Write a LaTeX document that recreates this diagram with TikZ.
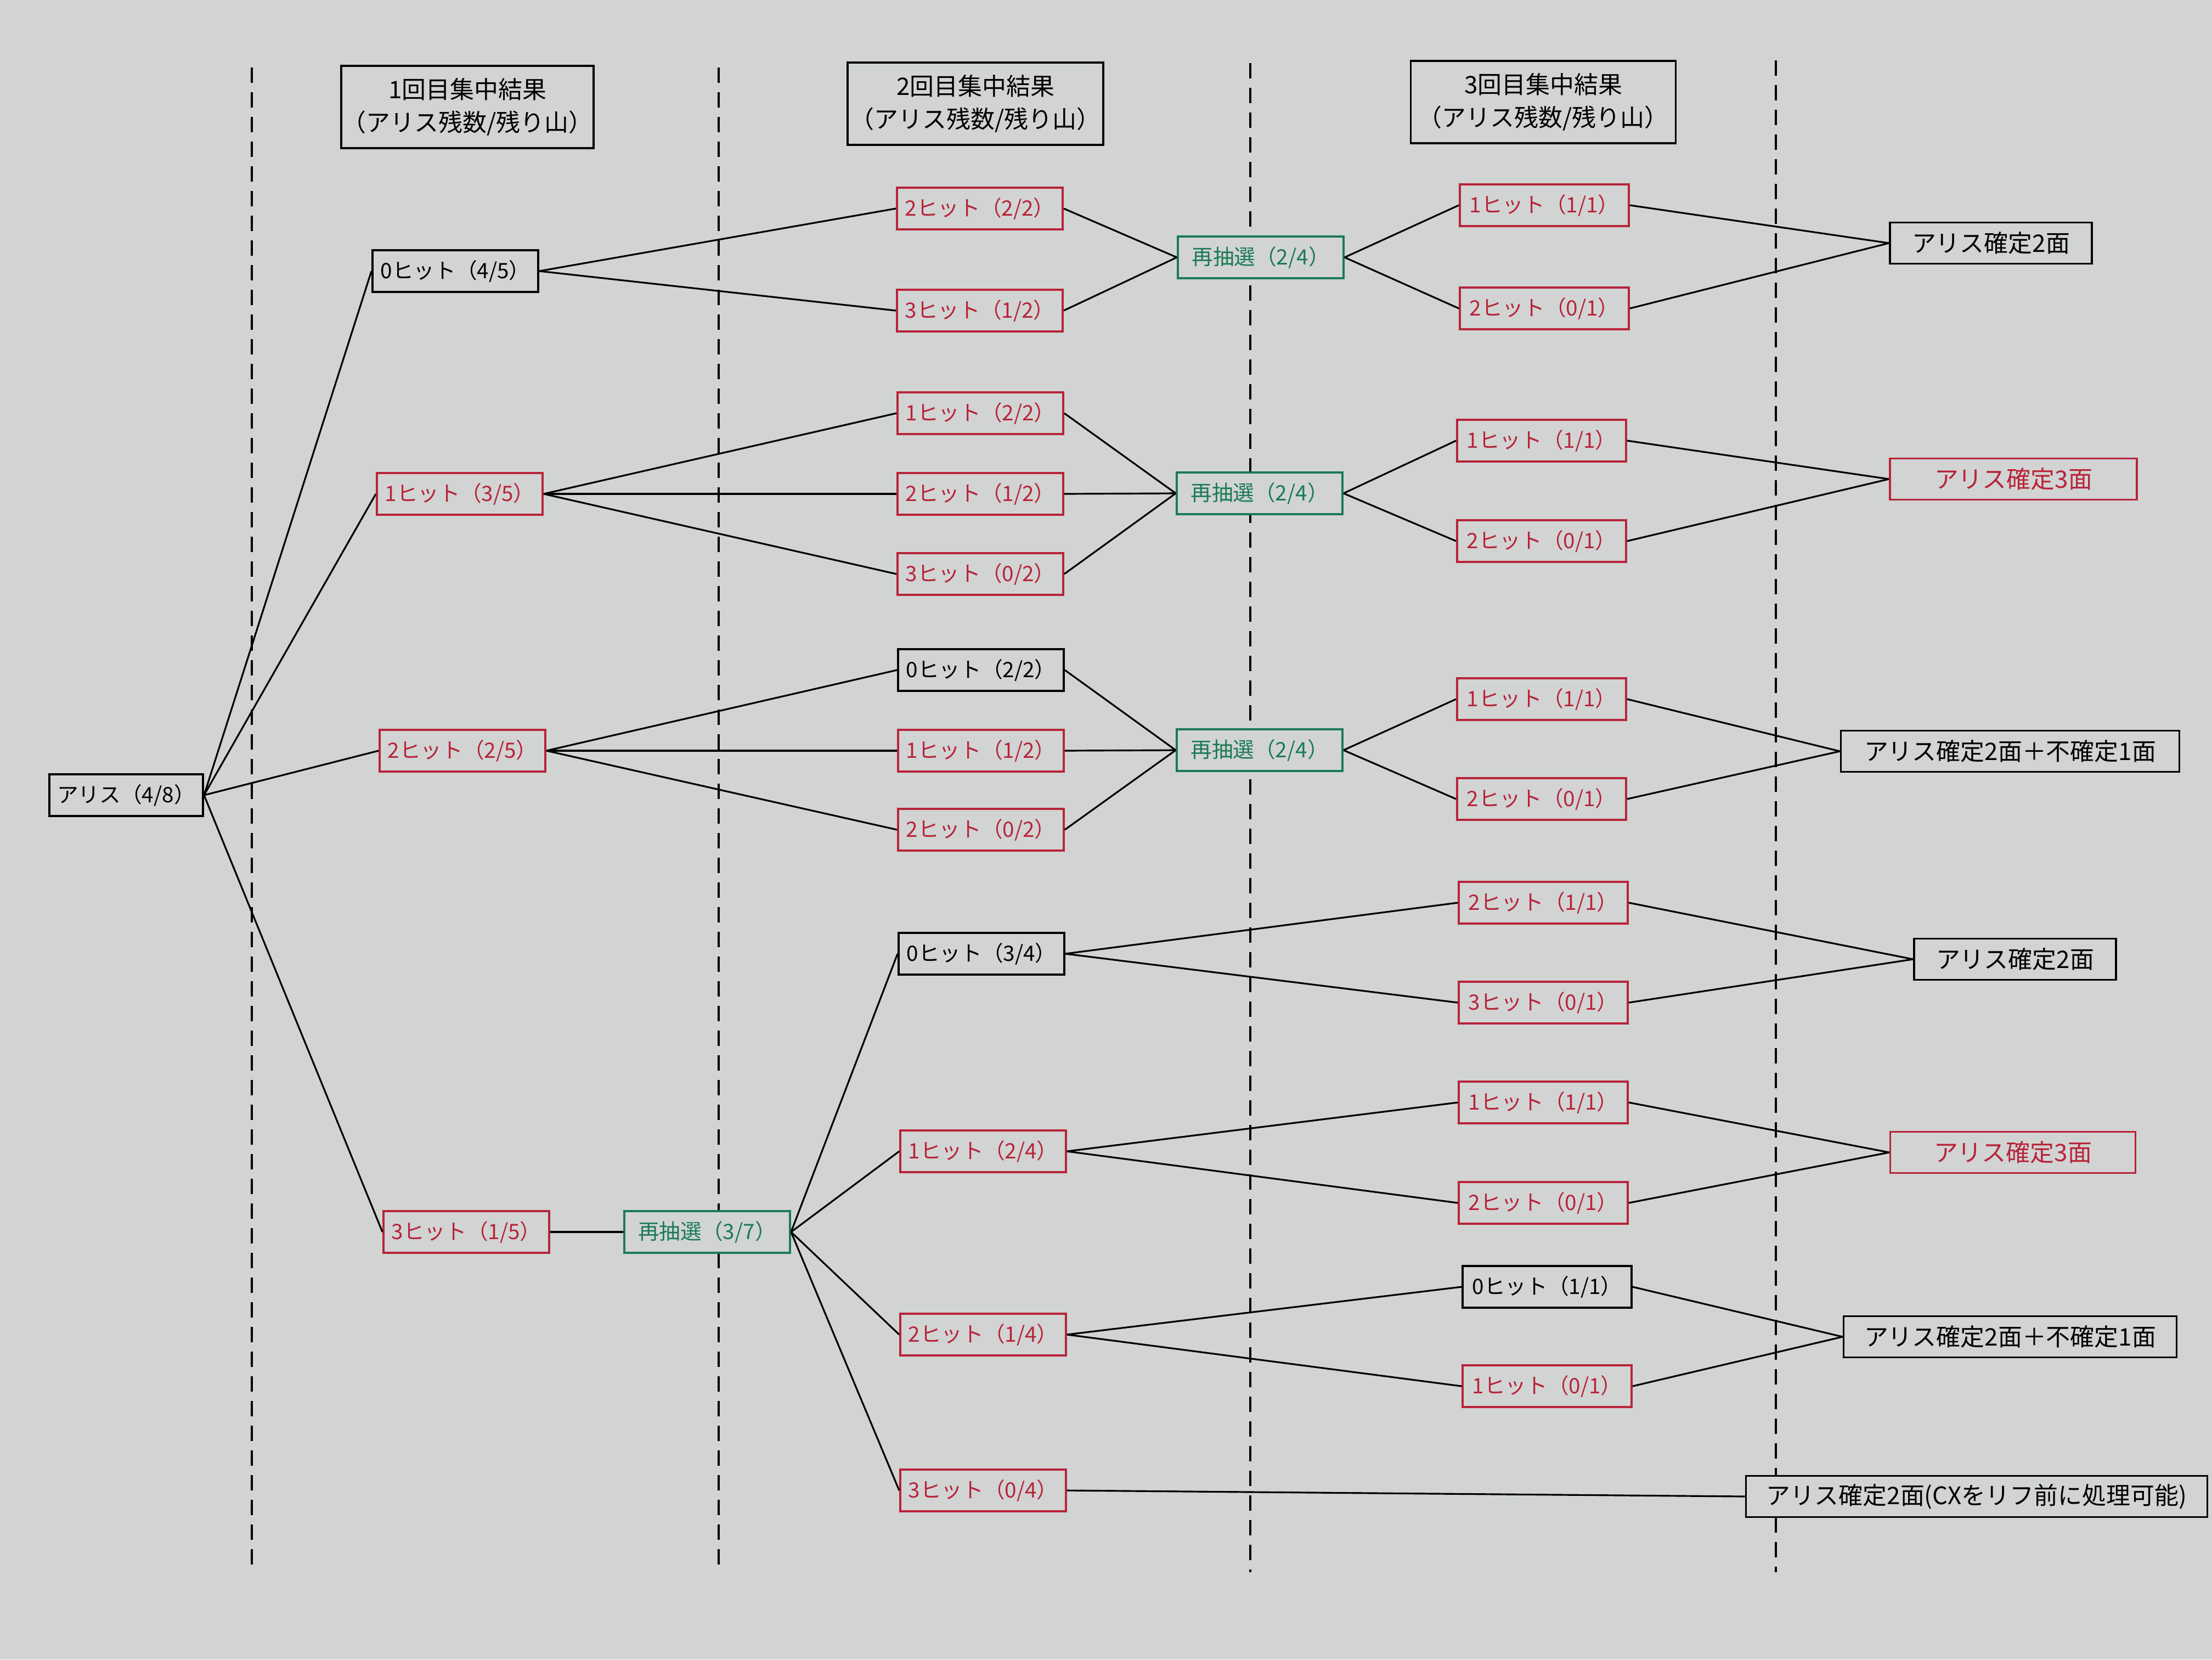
\documentclass[tikz,border=0pt]{standalone}
\usepackage{fontspec}
\setmainfont{Noto Sans CJK JP}
\usepackage{tikz}
\definecolor{paper}{RGB}{209,212,211}
\definecolor{hitred}{RGB}{184,36,58}
\definecolor{redraw}{RGB}{28,122,86}

\begin{document}
\begin{tikzpicture}
	\tikzstyle{every node}+=[inner sep=0pt, fill=paper, line width=1.1pt, font=\fontsize{11}{12}\selectfont]
	\tikzstyle{box}=[draw=black, text=black, minimum width=3.02cm, minimum height=0.76cm]
	\tikzstyle{redbox}=[box, draw=hitred, text=hitred]
	\tikzstyle{greenbox}=[box, draw=redraw, text=redraw]
	\tikzstyle{head}=[draw=black, minimum height=1.5cm, align=center, font=\fontsize{12.5}{17}\selectfont]
	\tikzstyle{result}=[font=\fontsize{12.5}{15}\selectfont, minimum height=0.75cm]
	\tikzstyle{divider}=[black, line width=1.1pt, dash pattern=on 0.28cm off 0.17cm]
	\tikzstyle{edge}=[black, line width=0.9pt]
	\fill [paper] (0,0) rectangle (40.32,-30.24);
	\useasboundingbox (0,0) rectangle (40.32,-30.24);
	\draw [divider] (4.59,-1.23) -- (4.59,-28.65);
	\draw [divider] (13.10,-1.23) -- (13.10,-28.65);
	\draw [divider] (22.79,-1.15) -- (22.79,-28.65);
	\draw [divider] (32.37,-1.10) -- (32.37,-28.65);
	\node [head, minimum width=4.60cm] (h1) at (8.52,-1.95) {1回目集中結果\\（アリス残数/残り山）};
	\node [head, minimum width=4.66cm] (h2) at (17.78,-1.89) {2回目集中結果\\（アリス残数/残り山）};
	\node [head, minimum width=4.83cm] (h3) at (28.13,-1.86) {3回目集中結果\\（アリス残数/残り山）};
	\node [box, minimum width=2.80cm] (alice) at (2.30,-14.49) {アリス（4/8）};
	\node [box] (f0) at (8.30,-4.94) {0ヒット（4/5）};
	\node [redbox] (f1) at (8.38,-9.00) {1ヒット（3/5）};
	\node [redbox] (f2) at (8.43,-13.68) {2ヒット（2/5）};
	\node [redbox] (f3) at (8.50,-22.45) {3ヒット（1/5）};
	\node [greenbox] (rd0) at (12.89,-22.45) {再抽選（3/7）};
	\node [redbox] (s1) at (17.86,-3.80) {2ヒット（2/2）};
	\node [redbox] (s2) at (17.86,-5.66) {3ヒット（1/2）};
	\node [redbox] (s3) at (17.87,-7.53) {1ヒット（2/2）};
	\node [redbox] (s4) at (17.87,-9.00) {2ヒット（1/2）};
	\node [redbox] (s5) at (17.87,-10.46) {3ヒット（0/2）};
	\node [box] (s6) at (17.88,-12.21) {0ヒット（2/2）};
	\node [redbox] (s7) at (17.88,-13.68) {1ヒット（1/2）};
	\node [redbox] (s8) at (17.88,-15.12) {2ヒット（0/2）};
	\node [box] (s9) at (17.89,-17.38) {0ヒット（3/4）};
	\node [redbox] (s10) at (17.92,-20.98) {1ヒット（2/4）};
	\node [redbox] (s11) at (17.92,-24.32) {2ヒット（1/4）};
	\node [redbox] (s12) at (17.92,-27.16) {3ヒット（0/4）};
	\node [greenbox] (rd1) at (22.98,-4.69) {再抽選（2/4）};
	\node [greenbox] (rd2) at (22.96,-8.99) {再抽選（2/4）};
	\node [greenbox] (rd3) at (22.96,-13.67) {再抽選（2/4）};
	\node [redbox, minimum width=3.08cm] (t1) at (28.15,-3.74) {1ヒット（1/1）};
	\node [redbox, minimum width=3.08cm] (t2) at (28.15,-5.62) {2ヒット（0/1）};
	\node [redbox, minimum width=3.08cm] (t3) at (28.10,-8.03) {1ヒット（1/1）};
	\node [redbox, minimum width=3.08cm] (t4) at (28.10,-9.86) {2ヒット（0/1）};
	\node [redbox, minimum width=3.08cm] (t5) at (28.10,-12.74) {1ヒット（1/1）};
	\node [redbox, minimum width=3.08cm] (t6) at (28.10,-14.56) {2ヒット（0/1）};
	\node [redbox, minimum width=3.08cm] (t7) at (28.13,-16.45) {2ヒット（1/1）};
	\node [redbox, minimum width=3.08cm] (t8) at (28.13,-18.27) {3ヒット（0/1）};
	\node [redbox, minimum width=3.08cm] (t9) at (28.13,-20.09) {1ヒット（1/1）};
	\node [redbox, minimum width=3.08cm] (t10) at (28.13,-21.92) {2ヒット（0/1）};
	\node [box, minimum width=3.08cm] (t11) at (28.20,-23.45) {0ヒット（1/1）};
	\node [redbox, minimum width=3.08cm] (t12) at (28.20,-25.26) {1ヒット（0/1）};
	\node [box, result, minimum width=3.68cm] (e1) at (36.29,-4.43) {アリス確定2面};
	\node [redbox, result, minimum width=4.50cm] (e2) at (36.70,-8.73) {アリス確定3面};
	\node [box, result, minimum width=6.17cm] (e3) at (36.64,-13.69) {アリス確定2面＋不確定1面};
	\node [box, result, minimum width=3.68cm] (e4) at (36.73,-17.48) {アリス確定2面};
	\node [redbox, result, minimum width=4.47cm] (e5) at (36.69,-21.00) {アリス確定3面};
	\node [box, result, minimum width=6.07cm] (e6) at (36.64,-24.36) {アリス確定2面＋不確定1面};
	\node [box, result, minimum width=8.41cm] (e7) at (36.03,-27.27) {アリス確定2面(CXをリフ前に処理可能)};
	\draw [edge] (alice.east) -- (f0.west);
	\draw [edge] (alice.east) -- (f1.west);
	\draw [edge] (alice.east) -- (f2.west);
	\draw [edge] (alice.east) -- (f3.west);
	\draw [edge] (f0.east) -- (s1.west);
	\draw [edge] (f0.east) -- (s2.west);
	\draw [edge] (f1.east) -- (s3.west);
	\draw [edge] (f1.east) -- (s4.west);
	\draw [edge] (f1.east) -- (s5.west);
	\draw [edge] (f2.east) -- (s6.west);
	\draw [edge] (f2.east) -- (s7.west);
	\draw [edge] (f2.east) -- (s8.west);
	\draw [edge] (f3.east) -- (rd0.west);
	\draw [edge] (rd0.east) -- (s9.west);
	\draw [edge] (rd0.east) -- (s10.west);
	\draw [edge] (rd0.east) -- (s11.west);
	\draw [edge] (rd0.east) -- (s12.west);
	\draw [edge] (s1.east) -- (rd1.west);
	\draw [edge] (s2.east) -- (rd1.west);
	\draw [edge] (s3.east) -- (rd2.west);
	\draw [edge] (s4.east) -- (rd2.west);
	\draw [edge] (s5.east) -- (rd2.west);
	\draw [edge] (s6.east) -- (rd3.west);
	\draw [edge] (s7.east) -- (rd3.west);
	\draw [edge] (s8.east) -- (rd3.west);
	\draw [edge] (rd1.east) -- (t1.west);
	\draw [edge] (rd1.east) -- (t2.west);
	\draw [edge] (rd2.east) -- (t3.west);
	\draw [edge] (rd2.east) -- (t4.west);
	\draw [edge] (rd3.east) -- (t5.west);
	\draw [edge] (rd3.east) -- (t6.west);
	\draw [edge] (s9.east) -- (t7.west);
	\draw [edge] (s9.east) -- (t8.west);
	\draw [edge] (s10.east) -- (t9.west);
	\draw [edge] (s10.east) -- (t10.west);
	\draw [edge] (s11.east) -- (t11.west);
	\draw [edge] (s11.east) -- (t12.west);
	\draw [edge] (t1.east) -- (e1.west);
	\draw [edge] (t2.east) -- (e1.west);
	\draw [edge] (t3.east) -- (e2.west);
	\draw [edge] (t4.east) -- (e2.west);
	\draw [edge] (t5.east) -- (e3.west);
	\draw [edge] (t6.east) -- (e3.west);
	\draw [edge] (t7.east) -- (e4.west);
	\draw [edge] (t8.east) -- (e4.west);
	\draw [edge] (t9.east) -- (e5.west);
	\draw [edge] (t10.east) -- (e5.west);
	\draw [edge] (t11.east) -- (e6.west);
	\draw [edge] (t12.east) -- (e6.west);
	\draw [edge] (s12.east) -- (e7.west);
\end{tikzpicture}
\end{document}
